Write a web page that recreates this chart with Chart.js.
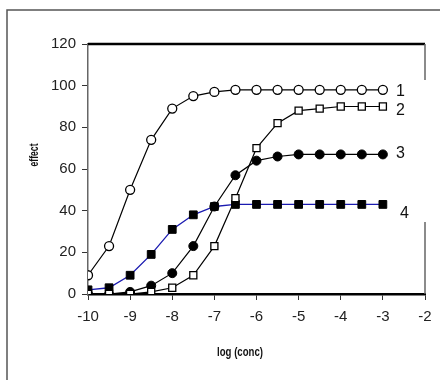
<!DOCTYPE html>
<html>
<head>
<meta charset="utf-8">
<script src="https://cdn.jsdelivr.net/npm/chart.js@4.4.1/dist/chart.umd.min.js"></script>
<style>
    body { margin: 0; background: #fff; }
    #wrap { width: 440px; height: 380px; position: relative; }
</style>
</head>
<body>
<div id="wrap"><canvas id="Chart_Effect"></canvas></div>
<script>
// dữ liệu
var logConc = [-10, -9.5, -9, -8.5, -8, -7.5, -7, -6.5, -6, -5.5, -5, -4.5, -4, -3.5, -3];
var effect1 = [9, 23, 50, 74, 89, 95, 97, 98, 98, 98, 98, 98, 98, 98, 98];
var effect2 = [0, 0, 0, 1, 3, 9, 23, 46, 70, 82, 88, 89, 90, 90, 90];
var effect3 = [0, 0, 1, 4, 10, 23, 42, 57, 64, 66, 67, 67, 67, 67, 67];
var effect4 = [2, 3, 9, 19, 31, 38, 42, 43, 43, 43, 43, 43, 43, 43, 43];
var seriesNames = ['1', '2', '3', '4'];
var xTitle = 'log (conc)';
var yTitle = 'effect';

var tickFont = "Arial, 'Liberation Sans', sans-serif";

function toPoints(arr) {
    return arr.map(function (v, i) {
        return { x: logConc[i], y: v };
    });
}

// plugin: khung ngoài, viền trên/phải, nhãn chuỗi và tiêu đề trục
const framePlugin = {
    id: 'frame_and_labels',
    beforeDatasetsDraw: (chart) => {
        const ctx = chart.ctx;
        const a = chart.chartArea;
        ctx.save();
        // khung ngoài
        ctx.strokeStyle = '#555';
        ctx.lineWidth = 1.5;
        ctx.beginPath();
        ctx.moveTo(7, chart.height + 5);
        ctx.lineTo(7, 10);
        ctx.lineTo(chart.width + 5, 10);
        ctx.stroke();
        // viền trên
        ctx.strokeStyle = '#000';
        ctx.lineWidth = 2.5;
        ctx.beginPath();
        ctx.moveTo(a.left, a.top);
        ctx.lineTo(a.right, a.top);
        ctx.stroke();
        // viền phải (bị che một đoạn ở giữa)
        ctx.strokeStyle = '#666';
        ctx.lineWidth = 1.5;
        ctx.beginPath();
        ctx.moveTo(a.right, a.top);
        ctx.lineTo(a.right, a.top + 36);
        ctx.moveTo(a.right, a.bottom - 72);
        ctx.lineTo(a.right, a.bottom);
        ctx.stroke();
        // tiêu đề trục (chữ hẹp)
        ctx.fillStyle = '#111';
        ctx.font = "bold 12px " + tickFont;
        ctx.textAlign = 'center';
        ctx.textBaseline = 'middle';
        ctx.save();
        ctx.translate(240, 353);
        ctx.scale(0.8, 1);
        ctx.fillText(xTitle, 0, 0);
        ctx.restore();
        ctx.translate(35, 155);
        ctx.rotate(-Math.PI / 2);
        ctx.scale(0.72, 1);
        ctx.fillText(yTitle, 0, 0);
        ctx.restore();
    },
    afterDatasetsDraw: (chart) => {
        const ctx = chart.ctx;
        const dy = [2, 4, -1, 9];
        ctx.save();
        ctx.fillStyle = '#111';
        ctx.font = "16px " + tickFont;
        ctx.textAlign = 'left';
        ctx.textBaseline = 'middle';
        chart.data.datasets.forEach(function (ds, i) {
            const meta = chart.getDatasetMeta(i);
            const last = meta.data[meta.data.length - 1];
            const k = seriesNames.indexOf(ds.label);
            ctx.fillText(ds.label, last.x + 13 + (k == 3 ? 4 : 0), last.y + dy[k]);
        });
        ctx.restore();
    }
};

var ctx1 = document.getElementById('Chart_Effect');
var Chart_Effect = new Chart(ctx1, {
    type: 'line',
    data: {
        datasets: [{
            label: seriesNames[1],
            data: toPoints(effect2),
            borderColor: '#000',
            borderWidth: 1.2,
            pointStyle: 'rect',
            pointRadius: 5,
            pointBackgroundColor: '#fff',
            pointBorderColor: '#000',
            pointBorderWidth: 1.3
        }, {
            label: seriesNames[2],
            data: toPoints(effect3),
            borderColor: '#000',
            borderWidth: 1.2,
            pointStyle: 'circle',
            pointRadius: 4.5,
            pointBackgroundColor: '#000',
            pointBorderColor: '#000',
            pointBorderWidth: 1
        }, {
            label: seriesNames[3],
            data: toPoints(effect4),
            borderColor: '#1a1ab0',
            borderWidth: 1.3,
            pointStyle: 'rect',
            pointRadius: 5.5,
            pointBackgroundColor: '#000',
            pointBorderColor: '#000',
            pointBorderWidth: 1
        }, {
            label: seriesNames[0],
            data: toPoints(effect1),
            borderColor: '#000',
            borderWidth: 1.2,
            pointStyle: 'circle',
            pointRadius: 4.5,
            pointBackgroundColor: '#fff',
            pointBorderColor: '#000',
            pointBorderWidth: 1.3
        }]
    },
    options: {
        responsive: true,
        maintainAspectRatio: false,
        animation: false,
        plugins: {
            legend: { display: false },
            tooltip: { enabled: false }
        },
        layout: {
            padding: { left: 0, right: 15, top: 44, bottom: 0 }
        },
        scales: {
            x: {
                type: 'linear',
                min: -10,
                max: -2,
                afterFit: function (s) { s.height = 86; },
                border: { color: '#000', width: 2.5 },
                grid: {
                    drawOnChartArea: false,
                    drawTicks: true,
                    tickLength: 6,
                    color: '#333'
                },
                ticks: {
                    stepSize: 1,
                    color: '#222',
                    padding: 8,
                    maxRotation: 0,
                    font: { family: tickFont, size: 15 }
                }
            },
            y: {
                min: 0,
                max: 120,
                afterFit: function (s) { s.width = 88; },
                border: { color: '#666', width: 1.5 },
                grid: {
                    drawOnChartArea: false,
                    drawTicks: true,
                    tickLength: 6,
                    color: '#333'
                },
                ticks: {
                    stepSize: 20,
                    color: '#222',
                    padding: 6,
                    font: { family: tickFont, size: 15 }
                }
            }
        }
    },
    plugins: [framePlugin]
});
</script>
</body>
</html>
